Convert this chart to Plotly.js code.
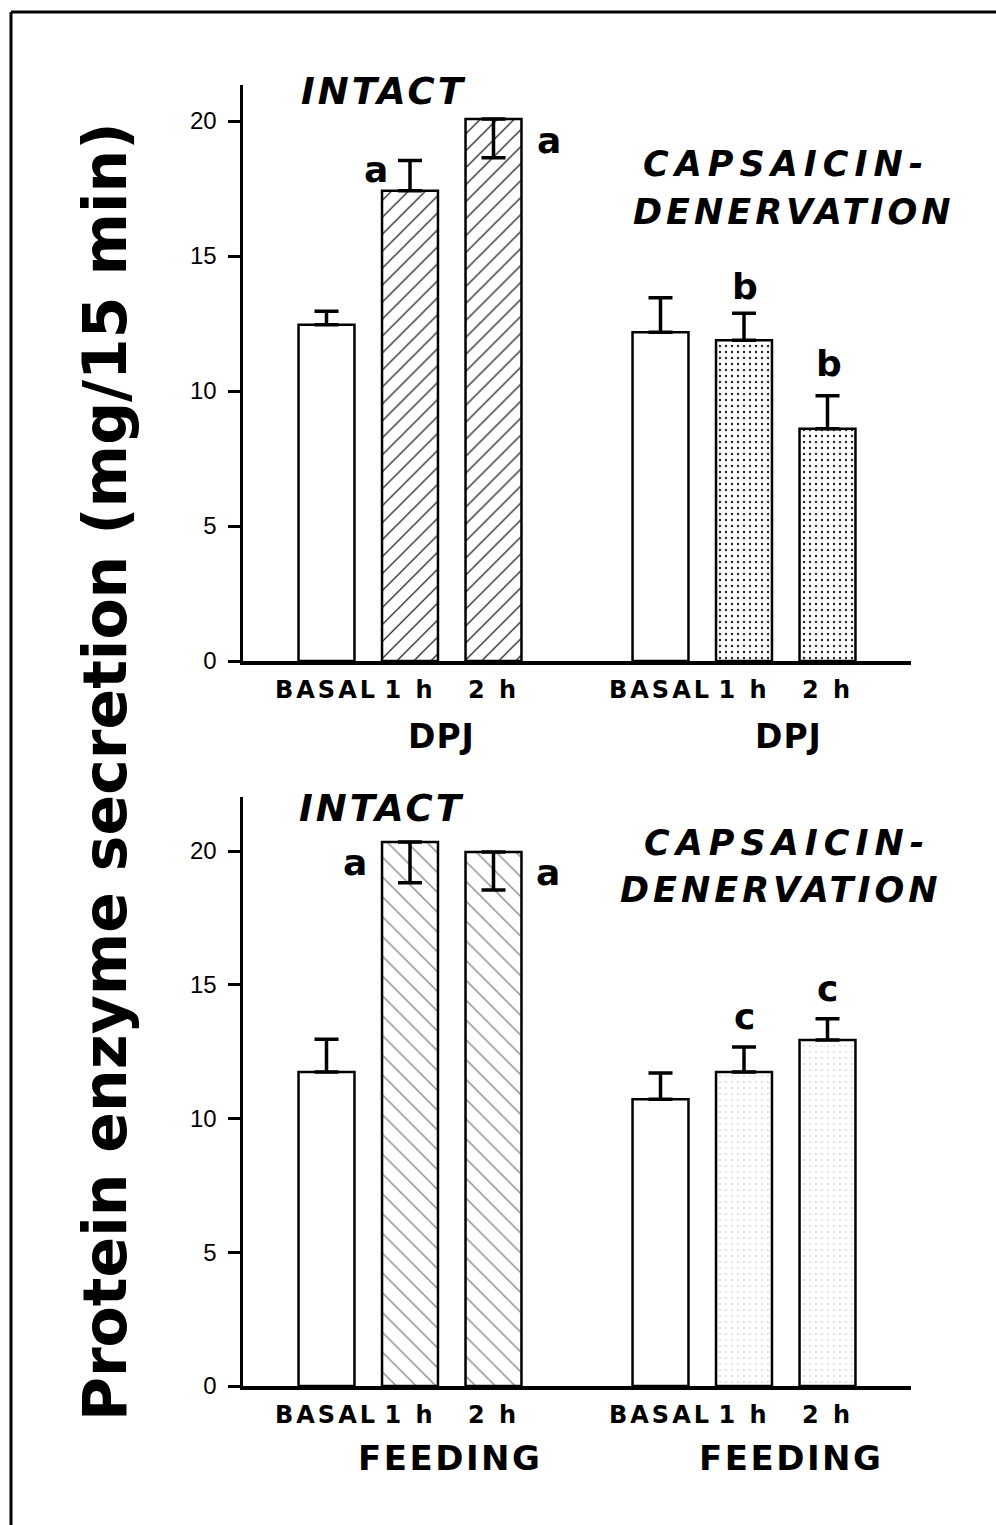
<!DOCTYPE html>
<html><head><meta charset="utf-8">
<script src="https://cdn.plot.ly/plotly-3.0.1.min.js"></script>
<style>html,body{margin:0;padding:0;background:#fff}</style>
</head><body><div id="chart" style="width:996px;height:1525px"></div>
<script>
// ---- data ----
const categories = ['BASAL', '1 h', '2 h'];
const groups = ['INTACT', 'CAPSAICIN-', 'DENERVATION'];
const stimuli = ['DPJ', 'FEEDING'];
const yTickVals = [0, 5, 10, 15, 20];

const dpjIntact = [12.45, 17.42, 20.07];
const dpjIntactErrUp = [0.5, 1.12, 0];
const dpjIntactErrDown = [0, 0, 1.43];
const dpjIntactSig = ['', 'a', 'a'];

const dpjCapsaicin = [12.18, 11.88, 8.6];
const dpjCapsaicinErrUp = [1.27, 1.0, 1.22];
const dpjCapsaicinErrDown = [0, 0, 0];
const dpjCapsaicinSig = ['', 'b', 'b'];

const feedIntact = [11.74, 20.34, 19.96];
const feedIntactErrUp = [1.22, 0, 0];
const feedIntactErrDown = [0, 1.53, 1.42];
const feedIntactSig = ['', 'a', 'a'];

const feedCapsaicin = [10.72, 11.74, 12.93];
const feedCapsaicinErrUp = [0.98, 0.93, 0.8];
const feedCapsaicinErrDown = [0, 0, 0];
const feedCapsaicinSig = ['', 'c', 'c'];

// ---- helpers ----
const W = 996, H = 1525;
const px = x => x / W, py = y => 1 - y / H;
const spaced = (t, s) => '<span style="letter-spacing:' + s + 'px">' + t + '</span>';
const intactKeys = categories.map(c => 'I ' + c);
const capsKeys = categories.map(c => 'C ' + c);
const allKeys = [...intactKeys, 'gap', ...capsKeys];
const tickKeys = [...intactKeys, ...capsKeys];
const tickText = [...categories, ...categories].map(c => spaced(c, 3));
const BOLD = 'DejaVu Sans';

function barTrace(keys, vals, up, down, pattern, xa, ya) {
  return {
    type: 'bar', x: keys, y: vals, xaxis: xa, yaxis: ya, width: 0.67,
    marker: {color: '#fff', line: {color: '#000', width: 2.5}, pattern: pattern},
    error_y: {type: 'data', symmetric: false, array: up, arrayminus: down,
              color: '#000', thickness: 3.5, width: 12},
    showlegend: false, hoverinfo: 'skip'
  };
}
const hatchSlash = {shape: ['', '/', '/'], fgcolor: '#000', bgcolor: '#fff', size: 12, solidity: 0.1};
const dots = {shape: ['', '.', '.'], fgcolor: '#222', bgcolor: '#fff', size: 6, solidity: 0.12};
const hatchBack = {shape: ['', '\\', '\\'], fgcolor: '#888', bgcolor: '#fff', size: 14, solidity: 0.1};
const faintDots = {shape: ['', '.', '.'], fgcolor: '#d8d8d8', bgcolor: '#fff', size: 6, solidity: 0.08};

const data = [
  barTrace(intactKeys, dpjIntact, dpjIntactErrUp, dpjIntactErrDown, hatchSlash, 'x', 'y'),
  barTrace(capsKeys, dpjCapsaicin, dpjCapsaicinErrUp, dpjCapsaicinErrDown, dots, 'x', 'y'),
  barTrace(intactKeys, feedIntact, feedIntactErrUp, feedIntactErrDown, hatchBack, 'x2', 'y2'),
  barTrace(capsKeys, feedCapsaicin, feedCapsaicinErrUp, feedCapsaicinErrDown, faintDots, 'x2', 'y2')
];

// significance letters
const annotations = [];
function sigLetters(keys, vals, up, sig, xref, yref, place) {
  sig.forEach((s, i) => {
    if (!s) return;
    const p = place[i];
    annotations.push({x: keys[i], y: vals[i] + (p.useErr ? up[i] : 0), xref: xref, yref: yref,
      text: s, showarrow: false, xshift: p.dx, yshift: p.dy, yanchor: 'middle',
      font: {family: BOLD, size: 36, color: '#000', weight: 'bold'}});
  });
}
sigLetters(intactKeys, dpjIntact, dpjIntactErrUp, dpjIntactSig, 'x', 'y',
  [null, {useErr: false, dx: -34, dy: 21}, {useErr: false, dx: 55, dy: -21}]);
sigLetters(capsKeys, dpjCapsaicin, dpjCapsaicinErrUp, dpjCapsaicinSig, 'x', 'y',
  [null, {useErr: true, dx: 1, dy: 27}, {useErr: true, dx: 1, dy: 32}]);
sigLetters(intactKeys, feedIntact, feedIntactErrUp, feedIntactSig, 'x2', 'y2',
  [null, {useErr: false, dx: -55, dy: -21}, {useErr: false, dx: 54, dy: -20}]);
sigLetters(capsKeys, feedCapsaicin, feedCapsaicinErrUp, feedCapsaicinSig, 'x2', 'y2',
  [null, {useErr: true, dx: 0, dy: 31}, {useErr: true, dx: 0, dy: 30}]);

function textAnno(text, x, y, size, italic, ls) {
  annotations.push({text: spaced(text, ls), x: px(x), y: py(y), xref: 'paper', yref: 'paper', showarrow: false,
    xanchor: 'center', yanchor: 'middle', align: 'center',
    font: {family: BOLD, size: size, color: '#000', weight: 'bold', style: italic ? 'italic' : 'normal'}});
}
textAnno(groups[0], 383, 92, 37, true, 3);
textAnno(groups[1], 786, 164, 35, true, 6);
textAnno(groups[2], 794, 212, 35, true, 4);
textAnno(groups[0], 381, 808, 37, true, 3);
textAnno(groups[1], 787, 843, 35, true, 6);
textAnno(groups[2], 781, 890, 35, true, 4);
textAnno(stimuli[0], 441, 737, 33, false, 1);
textAnno(stimuli[0], 788, 737, 33, false, 1);
textAnno(stimuli[1], 450, 1458, 34, false, 2.5);
textAnno(stimuli[1], 791, 1458, 34, false, 2.5);
annotations.push({text: 'Protein enzyme secretion (mg/15 min)', textangle: -90,
  x: px(105), y: py(772), xref: 'paper', yref: 'paper', showarrow: false,
  xanchor: 'center', yanchor: 'middle',
  font: {family: BOLD, size: 60, color: '#000', weight: 'bold'}});

function xAxis(anchor) {
  return {domain: [px(243), px(911)], anchor: anchor, type: 'category', categoryorder: 'array',
    categoryarray: allKeys, range: [-1, 7], tickmode: 'array', tickvals: tickKeys, ticktext: tickText,
    showline: true, linecolor: '#000', linewidth: 4, ticks: '', showgrid: false, zeroline: false,
    tickfont: {family: BOLD, size: 24, color: '#000', weight: 'bold'}, ticklabelstandoff: 4, fixedrange: true};
}
function yAxis(anchor, domTop, domBot, top) {
  return {domain: [py(domBot), py(domTop)], anchor: anchor, range: [0, top], tickmode: 'array',
    tickvals: yTickVals, showline: true, linecolor: '#000', linewidth: 3.5, ticks: 'outside',
    ticklen: 12, tickwidth: 3, tickcolor: '#000', showgrid: false, zeroline: false,
    tickfont: {family: 'Liberation Sans', size: 24, color: '#000'}, ticklabelstandoff: 6, fixedrange: true};
}

const layout = {
  width: W, height: H, margin: {l: 0, r: 0, t: 0, b: 0},
  paper_bgcolor: '#fff', plot_bgcolor: 'rgba(0,0,0,0)', showlegend: false,
  xaxis: xAxis('y'), yaxis: yAxis('x', 85, 661, (661 - 85) / 27),
  xaxis2: xAxis('y2'), yaxis2: yAxis('x2', 797, 1386, (1386 - 797) / 26.75),
  annotations: annotations,
  shapes: [
    {type: 'line', xref: 'paper', yref: 'paper', x0: px(11), x1: 1, y0: py(12), y1: py(12), line: {color: '#000', width: 3}},
    {type: 'line', xref: 'paper', yref: 'paper', x0: px(11), x1: px(11), y0: py(12), y1: 0, line: {color: '#000', width: 3}}
  ]
};
Plotly.newPlot('chart', data, layout, {staticPlot: true});
</script></body></html>
